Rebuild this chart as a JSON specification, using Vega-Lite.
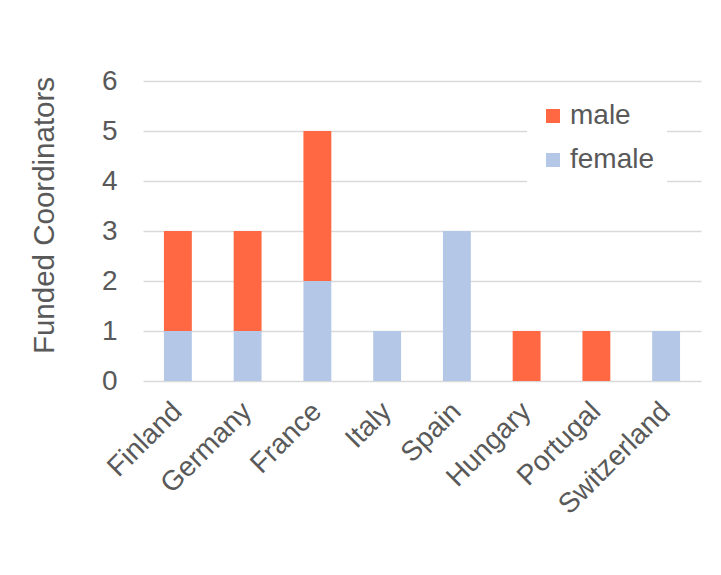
{
  "$schema": "https://vega.github.io/schema/vega-lite/v6.json",
  "autosize": {"type": "none"},
  "padding": {"left": 143, "top": 81, "right": 20, "bottom": 194},
  "width": 558,
  "height": 300,
  "background": "white",
  "config": {
    "view": {"stroke": null},
    "font": "Liberation Sans",
    "axis": {"labelColor": "#595959", "titleColor": "#595959", "labelFont": "Liberation Sans", "titleFont": "Liberation Sans"}
  },
  "data": {
    "values": [
      {"country": "Finland", "sex": "female", "count": 1},
      {"country": "Finland", "sex": "male", "count": 2},
      {"country": "Germany", "sex": "female", "count": 1},
      {"country": "Germany", "sex": "male", "count": 2},
      {"country": "France", "sex": "female", "count": 2},
      {"country": "France", "sex": "male", "count": 3},
      {"country": "Italy", "sex": "female", "count": 1},
      {"country": "Spain", "sex": "female", "count": 3},
      {"country": "Hungary", "sex": "male", "count": 1},
      {"country": "Portugal", "sex": "male", "count": 1},
      {"country": "Switzerland", "sex": "female", "count": 1}
    ]
  },
  "mark": {"type": "bar"},
  "encoding": {
    "x": {
      "field": "country",
      "type": "nominal",
      "sort": null,
      "scale": {"paddingInner": 0.6, "paddingOuter": 0.3},
      "axis": {
        "title": null,
        "domain": false,
        "ticks": false,
        "tickSize": 0,
        "labelAngle": -45,
        "labelAlign": "right",
        "labelBaseline": "middle",
        "labelPadding": 26,
        "labelFontSize": 28,
        "labelOverlap": false
      }
    },
    "y": {
      "field": "count",
      "type": "quantitative",
      "aggregate": "sum",
      "stack": "zero",
      "scale": {"domain": [0, 6]},
      "axis": {
        "title": "Funded Coordinators",
        "values": [0, 1, 2, 3, 4, 5, 6],
        "labelOverlap": false,
        "domain": false,
        "ticks": false,
        "tickSize": 0,
        "labelPadding": 26,
        "labelFontSize": 28,
        "gridColor": "#D9D9D9",
        "gridWidth": 1.5,
        "titleFontSize": 29.5,
        "titleFontWeight": "normal",
        "titleAngle": -90,
        "titleBaseline": "alphabetic",
        "titleAlign": "center",
        "titleX": -90,
        "titleY": 134
      }
    },
    "color": {
      "field": "sex",
      "type": "nominal",
      "scale": {"domain": ["male", "female"], "range": ["#FF6842", "#B4C7E7"]},
      "legend": {
        "title": null,
        "orient": "none",
        "legendX": 384,
        "legendY": 9,
        "fillColor": "white",
        "padding": 12,
        "symbolType": "square",
        "symbolSize": 196,
        "symbolStrokeWidth": 0,
        "labelFontSize": 28,
        "labelColor": "#595959",
        "labelFont": "Liberation Sans",
        "labelOffset": 3,
        "rowPadding": 16
      }
    },
    "order": {"field": "sex", "sort": "ascending"}
  }
}
